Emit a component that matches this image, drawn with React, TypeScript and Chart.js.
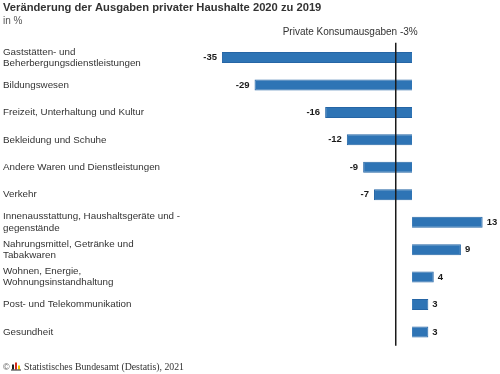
import React, { useEffect, useRef } from "react";
import { Chart, registerables } from "chart.js";

Chart.register(...registerables);

const categories: (string | string[])[] = [
  ["Gaststätten- und", "Beherbergungsdienstleistungen"],
  "Bildungswesen",
  "Freizeit, Unterhaltung und Kultur",
  "Bekleidung und Schuhe",
  "Andere Waren und Dienstleistungen",
  "Verkehr",
  ["Innenausstattung, Haushaltsgeräte und -", "gegenstände"],
  ["Nahrungsmittel, Getränke und", "Tabakwaren"],
  ["Wohnen, Energie,", "Wohnungsinstandhaltung"],
  "Post- und Telekommunikation",
  "Gesundheit",
];
const values = [-35, -29, -16, -12, -9, -7, 13, 9, 4, 3, 3];
const referenceValue = -3;
const referenceLabel = "Private Konsumausgaben -3%";
const titleText = "Veränderung der Ausgaben privater Haushalte 2020 zu 2019";
const subtitleText = "in %";
const sourceText = "Statistisches Bundesamt (Destatis), 2021";
const xMin = -40;
const xMax = 15;

const SANS = "'Liberation Sans', Arial, sans-serif";
const SERIF = "'Liberation Serif', 'Times New Roman', serif";

const overlayPlugin = {
  id: "overlay",
  afterDatasetsDraw(chart: any) {
    const { ctx, chartArea } = chart;
    const xs = chart.scales.x;
    const meta = chart.getDatasetMeta(0);
    ctx.save();
    // reference line
    const rx = xs.getPixelForValue(referenceValue);
    ctx.strokeStyle = "#1a1a1a";
    ctx.lineWidth = 1.5;
    ctx.beginPath();
    ctx.moveTo(rx, chartArea.top - 1);
    ctx.lineTo(rx, chartArea.bottom);
    ctx.stroke();
    ctx.fillStyle = "#333333";
    ctx.font = `10px ${SANS}`;
    ctx.textAlign = "right";
    ctx.textBaseline = "middle";
    ctx.fillText(referenceLabel, rx + 22, 32);

    // data labels
    ctx.font = `bold 9.5px ${SANS}`;
    ctx.fillStyle = "#1a1a1a";
    meta.data.forEach((bar: any, i: number) => {
      const v = values[i];
      const x = xs.getPixelForValue(v);
      if (v < 0) {
        ctx.textAlign = "right";
        ctx.fillText(String(v), x - 5, bar.y);
      } else {
        ctx.textAlign = "left";
        ctx.fillText(String(v), x + 4, bar.y);
      }
    });
    ctx.restore();
  },
  afterDraw(chart: any) {
    const { ctx } = chart;
    ctx.save();
    ctx.textBaseline = "middle";
    ctx.textAlign = "left";
    ctx.fillStyle = "#333333";
    ctx.font = `bold 11.2px ${SANS}`;
    ctx.fillText(titleText, 3, 8);
    ctx.fillStyle = "#555555";
    ctx.font = `10px ${SANS}`;
    ctx.fillText(subtitleText, 3, 21);

    // footer
    const fy = 367.5;
    ctx.fillStyle = "#555555";
    ctx.font = `9px ${SANS}`;
    ctx.fillText("©", 3, fy);
    // logo
    ctx.fillStyle = "#222222";
    ctx.fillRect(12, fy - 3, 2, 5);
    ctx.fillStyle = "#d52b1e";
    ctx.fillRect(15, fy - 5, 2, 7);
    ctx.fillStyle = "#f2c500";
    ctx.fillRect(18, fy - 2, 2, 4);
    ctx.fillStyle = "#222222";
    ctx.fillRect(11, fy + 2, 10, 1);
    ctx.fillStyle = "#333333";
    ctx.font = `9.8px ${SERIF}`;
    ctx.fillText(sourceText, 24, fy);
    ctx.restore();
  },
};

export default function App() {
  const ref = useRef<HTMLCanvasElement | null>(null);
  useEffect(() => {
    document.body.style.margin = "0";
    const canvas = ref.current;
    if (!canvas) return;
    const chart = new Chart(canvas, {
      type: "bar",
      data: {
        labels: categories,
        datasets: [
          {
            data: values,
            backgroundColor: "#2e74b5",
            borderColor: "#2565a5",
            borderWidth: 1,
            barPercentage: 0.4,
            categoryPercentage: 1,
          },
        ],
      },
      options: {
        indexAxis: "y",
        responsive: false,
        animation: false,
        events: [],
        layout: { padding: { top: 43.8, bottom: 28.3, left: 3, right: 6.5 } },
        plugins: {
          legend: { display: false },
          tooltip: { enabled: false },
          title: { display: false },
        },
        scales: {
          x: {
            type: "linear",
            display: false,
            min: xMin,
            max: xMax,
          },
          y: {
            type: "category",
            position: "left",
            grid: { display: false, drawTicks: false },
            border: { display: false },
            afterFit(scale: any) {
              scale.width = 191.8;
            },
            ticks: {
              crossAlign: "far",
              padding: 0,
              color: "#333333",
              font: { family: SANS, size: 9.8, lineHeight: 1.15 },
              autoSkip: false,
            },
          },
        },
      },
      plugins: [overlayPlugin],
    });
    return () => chart.destroy();
  }, []);
  return (
    <div style={{ width: 500, height: 374 }}>
      <canvas ref={ref} width={500} height={374} />
    </div>
  );
}
